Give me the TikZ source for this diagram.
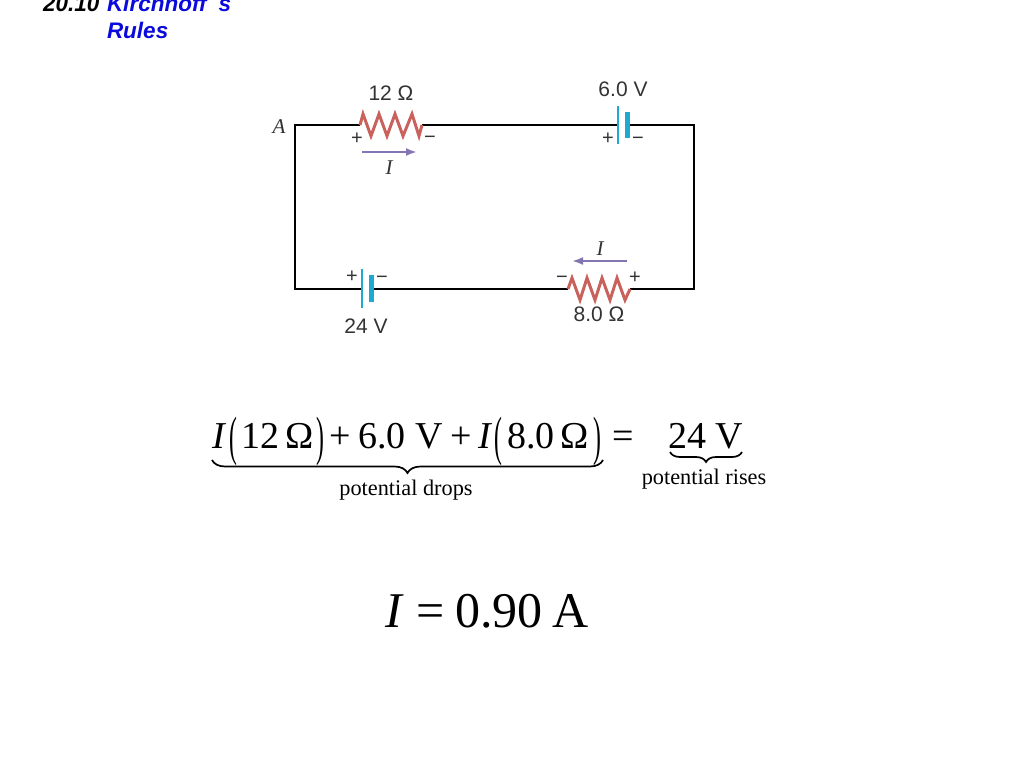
\documentclass[tikz,border=0pt]{standalone}
\usepackage{fontspec}
\setmainfont{Liberation Serif}
\newfontfamily\labelfont{Liberation Sans}
\usetikzlibrary{decorations.pathreplacing, arrows.meta}
\definecolor{wirered}{HTML}{C9625C}
\definecolor{battblue}{HTML}{1FA8D2}
\definecolor{curpurple}{HTML}{8275B2}
\definecolor{labelgray}{HTML}{333333}
\definecolor{titleblue}{HTML}{0A0ADC}
\newcommand{\tallparen}[1]{\raisebox{-6pt}{\scalebox{0.62}[1.42]{\fontsize{38}{38}\selectfont #1}}}
\tikzset{
  wire/.style={line width=2.5pt, black},
  zigzag/.style={line width=3pt, wirered, line join=miter},
  thinplate/.style={line width=1.4pt, battblue},
  thickplate/.style={line width=5pt, battblue},
  current/.style={line width=2pt, curpurple, -{Latex[length=11pt, width=8pt]}},
  txt/.style={inner sep=0pt, outer sep=0pt},
  lab/.style={txt, labelgray, font=\labelfont\fontsize{21}{21}\selectfont},
  sign/.style={txt, labelgray, font=\labelfont\fontsize{20}{20}\selectfont},
  ital/.style={txt, labelgray, font=\itshape\fontsize{21}{21}\selectfont},
  eqn/.style={txt, anchor=base west, font=\fontsize{38}{38}\selectfont},
  note/.style={txt, font=\fontsize{22.3}{23}\selectfont},
  res/.style={txt, anchor=base west, font=\fontsize{50}{50}\selectfont},
  head/.style={txt, anchor=base west, font=\labelfont\bfseries\itshape\fontsize{22.5}{23}\selectfont},
  brace/.style={decorate, decoration={brace, mirror, amplitude=#1}, line width=1.7pt}
}
\begin{document}
\begin{tikzpicture}[x=1pt, y=-1pt]
  \useasboundingbox (0,0) rectangle (1024,768);

  % Title
  \node[head] (num) at (43,12) {20.10};
  \node[head, titleblue] (kir) at (107,12) {Kirchhoff\hspace{12pt}s};
  \node[head, titleblue] (rul) at (107,39) {Rules};

  % Corners and terminals
  \coordinate (A) at (295,125);
  \coordinate (B) at (694,125);
  \coordinate (C) at (694,289);
  \coordinate (D) at (295,289);
  \coordinate (R1a) at (360,125);
  \coordinate (R1b) at (422,125);
  \coordinate (E1a) at (618,125);
  \coordinate (E1b) at (629,125);
  \coordinate (R2a) at (630,289);
  \coordinate (R2b) at (568,289);
  \coordinate (E2a) at (373,289);
  \coordinate (E2b) at (362,289);

  % Lines
  \draw[wire, line join=miter] (R1a) -- (A) -- (D) -- (E2b);
  \draw[wire] (R1b) -- (E1a);
  \draw[wire, line join=miter] (E1b) -- (B) -- (C) -- (R2a);
  \draw[wire] (R2b) -- (E2a);

  % Resistors
  \draw[zigzag] (R1a) -- (363,114) -- (371,136) -- (379,114) -- (387,136)
    -- (395,114) -- (403,136) -- (412,114) -- (419,136) -- (R1b);
  \draw[zigzag] (R2b) -- (572,278) -- (580,300) -- (587,278) -- (595,300)
    -- (602,278) -- (610,300) -- (617,278) -- (625,300) -- (R2a);

  % Batteries
  \draw[thinplate] (618,106) -- (618,144);
  \draw[thickplate] (627,112) -- (627,138);
  \draw[thinplate] (362,269) -- (362,308);
  \draw[thickplate] (371,275) -- (371,302);

  % Currents
  \coordinate (I1a) at (362,152);
  \coordinate (I1b) at (417,152);
  \coordinate (I2a) at (627,261);
  \coordinate (I2b) at (572,261);
  \draw[current] (I1a) -- (I1b);
  \draw[current] (I2a) -- (I2b);

  % Labels
  \node[ital] (lA) at (279,127) {A};
  \node[lab] (lR1) at (391,93) {12 Ω};
  \node[lab] (lE1) at (623,89) {6.0 V};
  \node[lab] (lE2) at (366,326) {24 V};
  \node[lab] (lR2) at (599,314) {8.0 Ω};
  \node[ital] (lI1) at (389,168) {I};
  \node[ital] (lI2) at (600,249) {I};
  \node[sign] (p1) at (357,139) {+};
  \node[sign] (m1) at (430,140) {−};
  \node[sign] (p2) at (608,139) {+};
  \node[sign] (m2) at (638,141) {−};
  \node[sign] (p3) at (352,277) {+};
  \node[sign] (m3) at (382,280) {−};
  \node[sign] (m4) at (562,280) {−};
  \node[sign] (p4) at (635,278) {+};

  % Equation
  \node[eqn] (eI1) at (212,448) {\itshape I};
  \node[eqn] (eo1) at (229,448) {\tallparen{(}};
  \node[eqn] (e12) at (241,448) {12\,Ω};
  \node[eqn] (ec1) at (316,448) {\tallparen{)}};
  \node[eqn] (ep1) at (329,448) {+};
  \node[eqn] (e6) at (358,448) {6.0 V};
  \node[eqn] (ep2) at (450,448) {+};
  \node[eqn] (eI2) at (478,448) {\itshape I};
  \node[eqn] (eo2) at (494,448) {\tallparen{(}};
  \node[eqn] (e8) at (507,448) {8.0\,Ω};
  \node[eqn] (ec2) at (593,448) {\tallparen{)}};
  \node[eqn] (eeq) at (612,448) {=};
  \node[eqn] (e24) at (668,448) {24 V};

  % Braces
  \coordinate (Ba) at (212,460);
  \coordinate (Bb) at (603,460);
  \coordinate (Bc) at (670,452);
  \coordinate (Bd) at (742,452);
  \draw[brace=13pt] (Ba) -- (Bb);
  \draw[brace=10pt] (Bc) -- (Bd);
  \node[note] (drops) at (406,490) {potential drops};
  \node[note] (rises) at (704,479) {potential rises};

  % Result
  \node[res] (rI) at (385,627) {\itshape I};
  \node[res] (req) at (416,627) {=};
  \node[res] (rval) at (455,627) {0.90};
  \node[res] (rA) at (552,627) {A};
\end{tikzpicture}
\end{document}
